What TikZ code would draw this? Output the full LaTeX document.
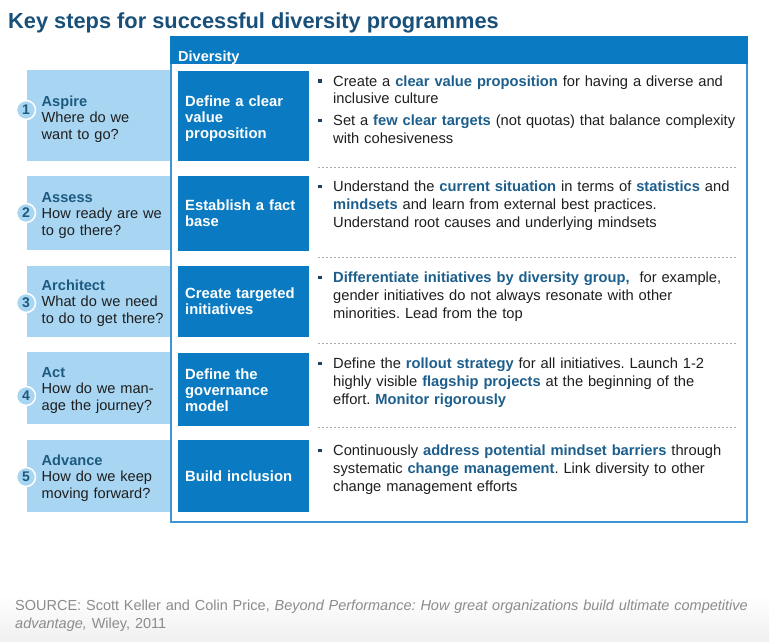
\documentclass[tikz,border=0pt]{standalone}
\usepackage{fontspec}
\setmainfont{Liberation Sans}
\frenchspacing
\definecolor{titleblue}{HTML}{18507A}
\definecolor{darkbox}{HTML}{0A7BC2}
\definecolor{lightbox}{HTML}{A8D5F2}
\definecolor{framec}{HTML}{3F95D4}
\definecolor{hl}{HTML}{1C5E8C}
\definecolor{bulc}{HTML}{1F3F66}
\definecolor{stepc}{HTML}{1D5A80}
\definecolor{bodytxt}{HTML}{1E1E1E}
\definecolor{srcgray}{HTML}{8C8C8C}
\definecolor{sepgray}{HTML}{AAAAAA}
\newcommand{\hlt}[1]{\textbf{\textcolor{hl}{#1}}}
\newcommand{\bmark}{\llap{\textcolor{bulc}{\rule[3.5pt]{3.5pt}{3.5pt}}\hspace{11.5pt}}}
\newcommand{\stp}[1]{\textbf{\textcolor{stepc}{#1}}}
\tikzset{
  lbox/.style={fill=lightbox, inner sep=0, outer sep=0, anchor=north west, minimum width=143},
  dbox/.style={fill=darkbox, inner sep=0, outer sep=0, anchor=north west, minimum width=131},
  ltxt/.style={anchor=base west, inner sep=0, text width=135, align=left, font=\fontsize{14.6}{16.5}\selectfont, text=bodytxt},
  dtxt/.style={anchor=base west, inner sep=0, text width=124, align=left, font=\bfseries\fontsize{14.8}{16}\selectfont, text=white},
  rtxt/.style={anchor=base west, inner sep=0, text width=425, align=left, font=\fontsize{14.7}{17.8}\selectfont, text=bodytxt},
  numc/.style={circle, fill=lightbox, draw=white, line width=1.5, minimum size=19, inner sep=0, font=\bfseries\fontsize{14}{14}\selectfont, text=stepc},
  sepline/.style={draw=sepgray, line width=0.8, dash pattern=on 2 off 2},
}
\begin{document}
\begin{tikzpicture}[x=1pt,y=-1pt]
\useasboundingbox (0,0) rectangle (769,641);
\shade[top color=white, bottom color=black!6] (0,595) rectangle (769,641);

% title
\node[anchor=base west, inner sep=0, font=\bfseries\fontsize{21.8}{22}\selectfont, text=titleblue] (title) at (8,28) {Key steps for successful diversity programmes};

% left light boxes
\node[lbox, minimum height=91] (lb1) at (27,70) {};
\node[lbox, minimum height=74] (lb2) at (27,176) {};
\node[lbox, minimum height=71] (lb3) at (27,266) {};
\node[lbox, minimum height=72] (lb4) at (27,352) {};
\node[lbox, minimum height=72] (lb5) at (27,440) {};

% frame
\node[draw=framec, line width=1.5, minimum width=576, minimum height=485, anchor=north west, inner sep=0, outer sep=0] (frame) at (171,37) {};
\node[fill=darkbox, anchor=north west, minimum width=577.5, minimum height=28, inner sep=0, outer sep=0] (hdr) at (170.25,36.25) {};
\node[anchor=base west, inner sep=0, font=\bfseries\fontsize{14.5}{15}\selectfont, text=white] (hdrtxt) at (178,61) {Diversity};

% dark boxes
\node[dbox, minimum height=90] (db1) at (178,71) {};
\node[dbox, minimum height=75] (db2) at (178,176) {};
\node[dbox, minimum height=71] (db3) at (178,266) {};
\node[dbox, minimum height=73] (db4) at (178,353) {};
\node[dbox, minimum height=72] (db5) at (178,440) {};

% circles
\node[numc] (c1) at (26,110) {1};
\node[numc] (c2) at (26,213) {2};
\node[numc] (c3) at (26,303) {3};
\node[numc] (c4) at (26,396) {4};
\node[numc] (c5) at (26,477) {5};

% left texts
\node[ltxt] (lt1) at (41.5,106) {\stp{Aspire}\\Where do we\\want to go?};
\node[ltxt] (lt2) at (41.5,202) {\stp{Assess}\\How ready are we\\to go there?};
\node[ltxt] (lt3) at (41.5,290) {\stp{Architect}\\What do we need\\to do to get there?};
\node[ltxt] (lt4) at (41.5,377) {\stp{Act}\\How do we man-\\age the journey?};
\node[ltxt] (lt5) at (41.5,465) {\stp{Advance}\\How do we keep\\moving forward?};

% dark texts
\node[dtxt] (dt1) at (185,106) {Define a clear\\value\\proposition};
\node[dtxt] (dt2) at (185,210) {Establish a fact\\base};
\node[dtxt] (dt3) at (185,298.5) {Create targeted\\initiatives};
\node[dtxt] (dt4) at (185,379.5) {Define the\\governance\\model};
\node[dtxt] (dt5) at (185,481) {Build inclusion};

% right texts
\node[rtxt] (r1a) at (333,86) {\bmark Create a \hlt{clear value proposition} for having a diverse and\\inclusive culture};
\node[rtxt] (r1b) at (333,125.5) {\bmark Set a \hlt{few clear targets} (not quotas) that balance complexity\\with cohesiveness};
\node[rtxt] (r2) at (333,191.5) {\bmark Understand the \hlt{current situation} in terms of \hlt{statistics} and\\\hlt{mindsets} and learn from external best practices.\\Understand root causes and underlying mindsets};
\node[rtxt] (r3) at (333,282.5) {\bmark \hlt{Differentiate initiatives by diversity group,}\ \ for example,\\gender initiatives do not always resonate with other\\minorities. Lead from the top};
\node[rtxt] (r4) at (333,368.5) {\bmark Define the \hlt{rollout strategy} for all initiatives. Launch 1-2\\highly visible \hlt{flagship projects} at the beginning of the\\effort. \hlt{Monitor rigorously}};
\node[rtxt] (r5) at (333,455.5) {\bmark Continuously \hlt{address potential mindset barriers} through\\systematic \hlt{change management}. Link diversity to other\\change management efforts};

% separators
\draw[sepline] (318,167.5) -- (737,167.5);
\draw[sepline] (318,257.5) -- (737,257.5);
\draw[sepline] (318,343.5) -- (737,343.5);
\draw[sepline] (318,427.5) -- (737,427.5);

% source
\node[anchor=base west, inner sep=0, text width=750, align=left, font=\fontsize{14.5}{18}\selectfont, text=srcgray] (src) at (15,610) {SOURCE: Scott Keller and Colin Price, \textit{Beyond Performance: How great organizations build ultimate competitive}\\\textit{advantage,} Wiley, 2011};
\end{tikzpicture}
\end{document}
